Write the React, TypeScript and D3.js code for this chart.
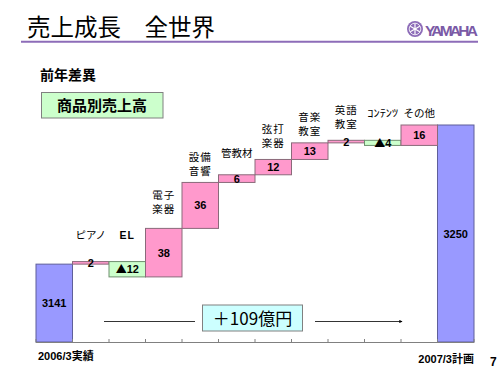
import React from "react";
import * as d3 from "d3";

// ---- data ----
const startLabel = "2006/3実績";
const endLabel = "2007/3計画";
const startValue = 3141;
const endValue = 3250;
const categories: string[][] = [
  ["ピアノ"],
  ["EL"],
  ["電子", "楽器"],
  ["設備", "音響"],
  ["管教材"],
  ["弦打", "楽器"],
  ["音楽", "教室"],
  ["英語", "教室"],
  ["ｺﾝﾃﾝﾂ"],
  ["その他"],
];
const deltas: number[] = [2, -12, 38, 36, 6, 12, 13, 2, -4, 16];
const totalLabel = "＋109億円";

// ---- layout (not data) ----
const labelLift = [27, 27, 19, 11, 22, 16, 12, 16, 27, 12];
const boldCat = [false, true, false, false, false, false, false, false, false, false];

const W = 500, H = 375;
const JP = "'Noto Sans CJK JP', 'Noto Sans', sans-serif";
const NUM = "'Liberation Sans', Arial, 'Noto Sans CJK JP', sans-serif";

export default function App() {
  const n = deltas.length + 2;
  const x = d3.scaleBand<number>().domain(d3.range(n)).range([36, 474]).padding(0);
  const y = d3.scaleLinear().domain([3080, 3250]).range([342, 125]);
  const bw = x.bandwidth();

  let run = startValue;
  const steps = deltas.map((d, i) => {
    const from = run;
    run += d;
    return { i: i + 1, from, to: run, d, lo: Math.min(from, run), hi: Math.max(from, run) };
  });

  const base = y.domain()[0];
  const ticks = d3.range(n + 1).map((k) => 36 + k * bw);

  return (
    <svg width={W} height={H} style={{ position: "absolute", left: 0, top: 0, background: "#fff" }}>
      {/* title */}
      <text x={27} y={36} fontFamily={JP} fontSize={23.5} fill="#000">売上成長　全世界</text>
      <line x1={21} x2={478} y1={41.7} y2={41.7} stroke="#8D6CB8" strokeWidth={2} />
      {/* yamaha logo */}
      <g transform="translate(415,29)">
        <circle r={8} fill="#8D6CB8" />
        <circle r={5.8} fill="none" stroke="#fff" strokeWidth={0.8} />
        {[0, 60, 120].map((a) => (
          <line key={a} x1={0} y1={-5.5} x2={0} y2={5.5} stroke="#fff" strokeWidth={1.2} transform={`rotate(${a})`} />
        ))}
      </g>
      <text x={425} y={36} fontFamily={NUM} fontWeight="bold" fontSize={15.5} fill="#7B5AA6" textLength={53}>YAMAHA</text>

      <text x={40} y={80} fontFamily={JP} fontWeight="bold" fontSize={14} fill="#000">前年差異</text>
      <rect x={41.5} y={92.5} width={121.5} height={25.5} fill="#CCFFCC" stroke="#808080" strokeWidth={1} />
      <text x={102} y={111} textAnchor="middle" fontFamily={JP} fontWeight="bold" fontSize={15} fill="#000">商品別売上高</text>

      {/* start & end bars */}
      <rect x={x(0)} y={y(startValue)} width={bw} height={y(base) - y(startValue)} fill="#9999FF" stroke="#5F5F99" strokeWidth={1} />
      <rect x={x(n - 1)} y={y(endValue)} width={bw} height={y(base) - y(endValue)} fill="#9999FF" stroke="#5F5F99" strokeWidth={1} />
      <text x={x(0)! + bw / 2} y={(y(startValue) + y(base)) / 2 + 4} textAnchor="middle" fontFamily={NUM} fontWeight="bold" fontSize={11}>{startValue}</text>
      <text x={x(n - 1)! + bw / 2} y={(y(endValue) + y(base)) / 2 + 4} textAnchor="middle" fontFamily={NUM} fontWeight="bold" fontSize={11}>{endValue}</text>

      {/* delta bars */}
      {steps.map((s, k) => {
        const top = y(s.hi);
        const bot = y(s.lo);
        const cx = x(s.i)! + bw / 2;
        const cy = (top + bot) / 2;
        const neg = s.d < 0;
        const lines = categories[k];
        const lastY = top - labelLift[k];
        return (
          <g key={k}>
            <rect x={x(s.i)} y={top} width={bw} height={bot - top} fill={neg ? "#CCFFCC" : "#FF99CC"} stroke={neg ? "#6E8F6E" : "#8A6A7A"} strokeWidth={1} />
            <text x={cx} y={cy + 4} textAnchor="middle" fontFamily={NUM} fontWeight="bold" fontSize={11} fill="#000">
              {neg ? (
                <>
                  <tspan fontFamily={JP} fontSize={11}>▲</tspan>
                  {String(Math.abs(s.d))}
                </>
              ) : (
                String(s.d)
              )}
            </text>
            {lines.map((ln, j) => (
              <text
                key={j}
                x={cx}
                y={lastY - (lines.length - 1 - j) * 14 + 4}
                textAnchor="middle"
                fontFamily={boldCat[k] ? NUM : JP}
                fontWeight={boldCat[k] ? "bold" : "normal"}
                fontSize={10.5}
                letterSpacing={ln.length === 2 ? 1 : 0}
                fill="#000"
                {...(ln === "ｺﾝﾃﾝﾂ" ? { textLength: 31, lengthAdjust: "spacingAndGlyphs" } : {})}
              >
                {ln}
              </text>
            ))}
          </g>
        );
      })}

      {/* axis */}
      <line x1={36} x2={474} y1={342.5} y2={342.5} stroke="#808080" strokeWidth={1} />
      {ticks.map((t, k) => (
        <line key={k} x1={t} x2={t} y1={342.5} y2={339} stroke="#808080" strokeWidth={1} />
      ))}

      {/* total arrow */}
      <defs>
        <marker id="ah" viewBox="0 0 6 6" refX={5} refY={3} markerWidth={4} markerHeight={4} orient="auto">
          <path d="M0,0 L6,3 L0,6 z" fill="#000" />
        </marker>
      </defs>
      <line x1={104} x2={195} y1={321.5} y2={321.5} stroke="#000" strokeWidth={0.8} />
      <line x1={315} x2={402} y1={321.5} y2={321.5} stroke="#000" strokeWidth={0.8} markerEnd="url(#ah)" />
      <rect x={202.5} y={305} width={100} height={26} fill="#CCFFFF" stroke="#808080" strokeWidth={1} />
      <text x={252.5} y={324.5} textAnchor="middle" fontFamily={JP} fontSize={17} fill="#000">{totalLabel}</text>

      <text x={38} y={360} fontFamily={NUM} fontWeight="bold" fontSize={11}>{startLabel}</text>
      <text x={474} y={363} textAnchor="end" fontFamily={NUM} fontWeight="bold" fontSize={11}>{endLabel}</text>
      <text x={490} y={366} fontFamily={NUM} fontWeight="bold" fontSize={12}>7</text>
    </svg>
  );
}
